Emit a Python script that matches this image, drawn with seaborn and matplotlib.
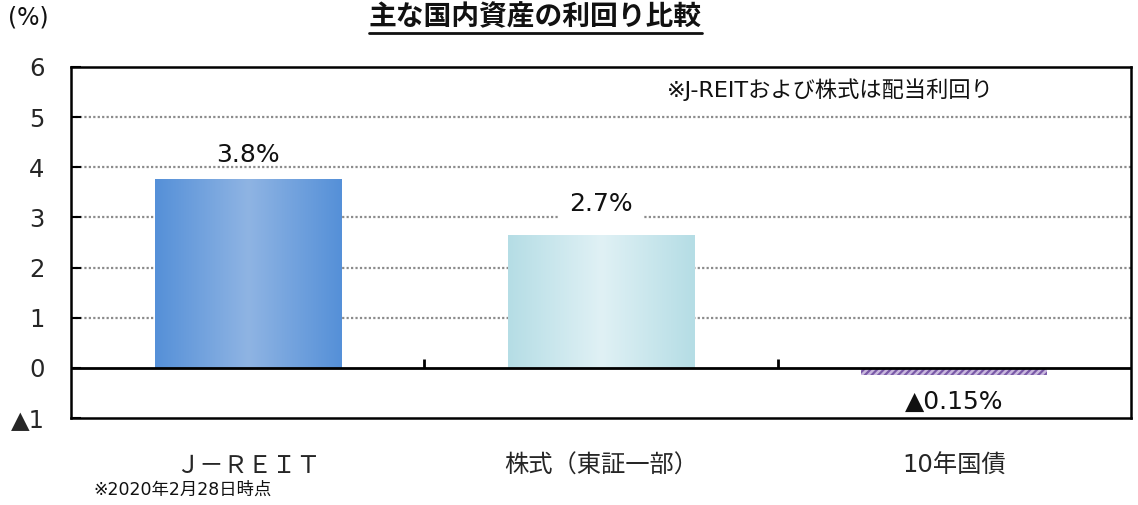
import numpy as np
import pandas as pd
import matplotlib
matplotlib.use("Agg")
import matplotlib.pyplot as plt
import seaborn as sns
from matplotlib.colors import LinearSegmentedColormap

# ---- data ----
categories = ["Ｊ－ＲＥＩＴ", "株式（東証一部）", "10年国債"]
values = [3.77, 2.64, -0.15]
value_labels = ["3.8%", "2.7%", "▲0.15%"]
ytick_values = [-1, 0, 1, 2, 3, 4, 5, 6]
ytick_labels = ["▲1", "0", "1", "2", "3", "4", "5", "6"]
title = "主な国内資産の利回り比較"
unit_label = "(%)"
note_top = "※J-REITおよび株式は配当利回り"
note_bottom = "※2020年2月28日時点"

# ---- style ----
sns.set_theme(style="white")
plt.rcParams["font.family"] = ["DejaVu Sans", "Noto Sans CJK JP"]
plt.rcParams["hatch.linewidth"] = 1.6

gradients = [("#5590d8", "#8fb4e3"), ("#b5dde5", "#e0f1f5")]
hatch_face = "#c9b8de"
hatch_edge = "#7a5aa8"
label_offsets_pt = [17, 23, -19]

df = pd.DataFrame({"cat": categories, "val": values})

fig = plt.figure(figsize=(11.38, 5.05), dpi=100)
ax = fig.add_axes([71 / 1138, 1 - 418 / 505, 1060 / 1138, 351 / 505])

sns.barplot(data=df, x="cat", y="val", ax=ax, width=0.527,
            color="#5590d8", saturation=1, edgecolor="none", linewidth=0)

patches = ax.patches
for p, (edge_c, mid_c) in zip(patches[:2], gradients):
    x0, w, h = p.get_x(), p.get_width(), p.get_height()
    y0 = p.get_y()
    cmap = LinearSegmentedColormap.from_list("g", [edge_c, mid_c, edge_c])
    grad = np.linspace(0, 1, 256).reshape(1, -1)
    im = ax.imshow(grad, cmap=cmap, aspect="auto", interpolation="bicubic",
                   extent=(x0, x0 + w, y0, y0 + h), zorder=2)
    im.set_clip_path(p)
    p.set_facecolor("none")

p3 = patches[2]
p3.set_facecolor(hatch_face)
p3.set_edgecolor(hatch_edge)
p3.set_hatch("/////")
p3.set_linewidth(0)

ax.set_xlim(-0.5, 2.5)
ax.set_ylim(-1, 6)

for yv in ytick_values:
    if 0 < yv < 6:
        ax.axhline(yv, color="#8c8c8c", lw=1.6, ls=(0, (1, 1)), zorder=0.5)
ax.axhline(0, color="black", lw=2, zorder=4)
ax.vlines([0.5, 1.5], 0, 0.17, color="black", lw=2, zorder=4)

ax.set_yticks(ytick_values)
ax.set_yticklabels(ytick_labels, fontsize=17.5)
ax.tick_params(axis="y", direction="in", length=7, width=1.5, color="black",
               left=True, pad=19)
ax.tick_params(axis="x", length=0, pad=26, labelsize=17.5)
ax.set_xlabel("")
ax.set_ylabel("")
for s in ax.spines.values():
    s.set_visible(True)
    s.set_color("black")
    s.set_linewidth(1.8)

for i, (v, lab, off) in enumerate(zip(values, value_labels, label_offsets_pt)):
    kw = {}
    if i == 1:
        kw["bbox"] = dict(facecolor="white", edgecolor="none", pad=7)
    ax.annotate(lab, xy=(i, v), xytext=(0, off), textcoords="offset points",
                ha="center", va="center", fontsize=18, color="#111111",
                zorder=5, **kw)

ax.text(0.716, 0.935, note_top, transform=ax.transAxes, ha="center",
        va="center", fontsize=16, color="#111111")

fig.text(8 / 1138, 1 - 18 / 505, unit_label, ha="left", va="center",
         fontsize=17, color="#111111")
fig.text(93 / 1138, 1 - 490 / 505, note_bottom, ha="left", va="center",
         fontsize=12.5, color="#111111")

t = fig.text(535 / 1138, 1 - 17 / 505, title, ha="center", va="center",
             fontsize=20, fontweight="bold", color="#111111",
             family=["Noto Sans CJK JP"])
fig.canvas.draw()
bb = t.get_window_extent()
fig.add_artist(plt.Line2D([bb.x0 / 1138, bb.x1 / 1138],
                          [1 - 33 / 505, 1 - 33 / 505],
                          transform=fig.transFigure, color="#111111", lw=2))

fig.savefig("out.png", dpi=100)
